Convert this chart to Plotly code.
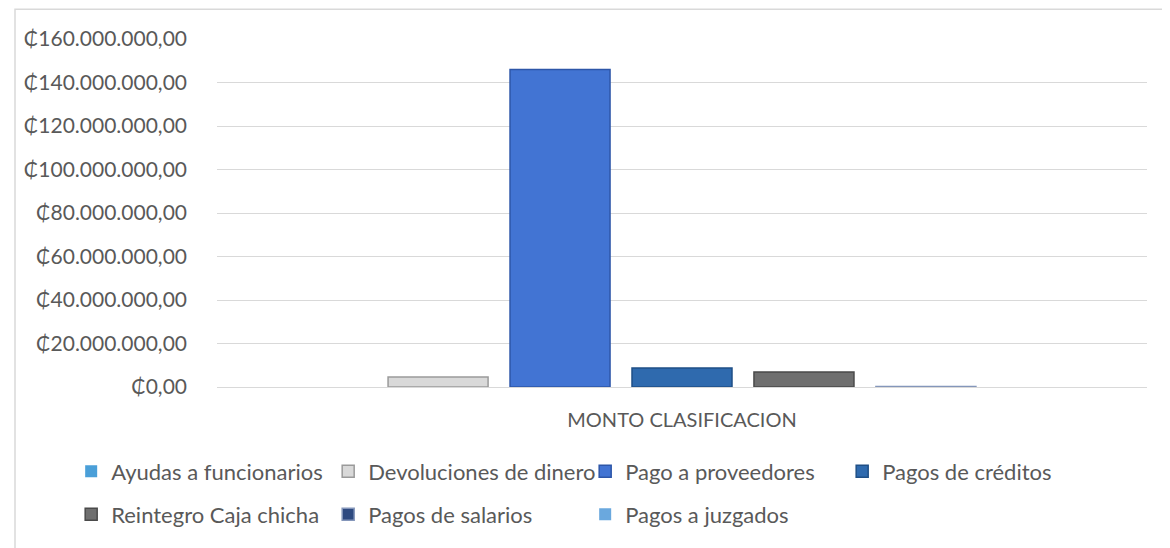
import plotly.graph_objects as go

category = ["MONTO CLASIFICACION"]
series_names = [
    "Ayudas a funcionarios",
    "Devoluciones de dinero",
    "Pago a proveedores",
    "Pagos de créditos",
    "Reintegro Caja chicha",
    "Pagos de salarios",
    "Pagos a juzgados",
]
series_values = [0, 4600000, 146000000, 8700000, 6900000, 200000, 0]
series_colors = ["#4A9FD8", "#D9D9D9", "#4274D3", "#2F6AAE", "#6F6F6F", "#2E4A80", "#6AA8DE"]
line_colors = ["#2F7DB8", "#9A9A9A", "#2D56A8", "#1F4F86", "#4A4A4A", "#8496BA", "#4C8CC4"]

tick_vals = [0, 20000000, 40000000, 60000000, 80000000, 100000000, 120000000, 140000000, 160000000]
tick_text = ["₵0,00", "₵20.000.000,00", "₵40.000.000,00", "₵60.000.000,00", "₵80.000.000,00",
             "₵100.000.000,00", "₵120.000.000,00", "₵140.000.000,00", "₵160.000.000,00"]

FONT = "Lato, 'Open Sans', sans-serif"
TXT = "#595959"

fig = go.Figure()
for i, (name, val) in enumerate(zip(series_names, series_values)):
    fig.add_trace(go.Bar(
        x=category, y=[val], name=name,
        marker=dict(color=series_colors[i],
                    line=dict(color=line_colors[i], width=1.5 if val > 0 else 0)),
        legend="legend" if i < 4 else "legend2",
        hoverinfo="skip",
    ))

legend_common = dict(
    orientation="h", xanchor="left", yanchor="middle",
    font=dict(family=FONT, size=22, color=TXT),
    entrywidth=212, entrywidthmode="pixels",
    bgcolor="rgba(0,0,0,0)", traceorder="normal",
)

fig.update_layout(
    width=1162, height=540,
    margin=dict(l=209, r=23, t=31, b=159),
    paper_bgcolor="white", plot_bgcolor="white",
    barmode="group", bargap=0.082, bargroupgap=0.18,
    font=dict(family=FONT, color=TXT),
    showlegend=True,
    legend=dict(x=-0.1568, y=-0.243, **legend_common),
    legend2=dict(x=-0.1568, y=-0.366, **legend_common),
    xaxis=dict(showgrid=False, showline=False, ticks="", ticklabelstandoff=19,
               tickfont=dict(family=FONT, size=20, color=TXT)),
    yaxis=dict(range=[0, 160000000], tickvals=tick_vals, ticktext=tick_text,
               showgrid=True, gridcolor="#D9D9D9", gridwidth=1,
               zeroline=True, zerolinecolor="#D9D9D9", zerolinewidth=1,
               showline=False, ticks="", ticklabelstandoff=29,
               tickfont=dict(family=FONT, size=21, color=TXT)),
    shapes=[dict(type="rect", xref="paper", yref="paper",
                 x0=-0.2172, x1=1.05, y0=-0.47, y1=1.0857,
                 line=dict(color="#D9D9D9", width=1.5), layer="below")],
)

fig.write_html("out.html")
